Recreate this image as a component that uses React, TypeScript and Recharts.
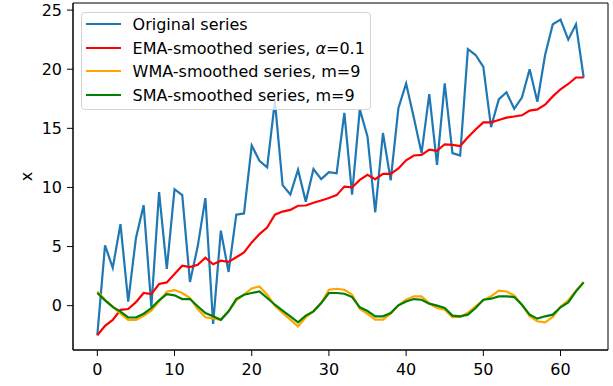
import React from 'react';
import { LineChart, Line, XAxis, YAxis, Legend, ReferenceArea } from 'recharts';

const original = [-2.5, 5.1, 3.2, 6.9, 0.35, 5.7, 8.5, -0.1, 9.6, 3.1,
  9.85, 9.35, 2.0, 5.0, 9.1, -1.55, 6.35, 2.85, 7.7, 7.8,
  13.55, 12.25, 11.7, 17.3, 10.2, 9.4, 11.5, 8.8, 11.55, 10.7,
  11.3, 11.2, 16.3, 9.4, 16.6, 14.3, 7.9, 14.6, 10.6, 16.7,
  18.8, 15.9, 12.9, 17.9, 11.9, 18.8, 12.9, 12.7, 21.7, 21.2,
  20.2, 15.1, 17.45, 18.05, 16.65, 17.6, 20.0, 17.25, 21.2, 23.8,
  24.2, 22.5, 23.8, 19.3];

const ema = [-2.5, -1.7, -1.2, -0.35, -0.28, 0.3, 1.07, 0.98, 1.83, 1.97,
  2.68, 3.38, 3.27, 3.46, 4.05, 3.5, 3.8, 3.7, 4.1, 4.5,
  5.35, 6.05, 6.6, 7.69, 7.96, 8.1, 8.45, 8.47, 8.7, 8.9,
  9.1, 9.35, 10.07, 10.0, 10.64, 11.06, 10.7, 11.15, 11.15, 11.6,
  12.3, 12.7, 12.75, 13.2, 13.1, 13.65, 13.6, 13.5, 14.25, 14.9,
  15.5, 15.5, 15.7, 15.9, 16.0, 16.1, 16.5, 16.6, 17.0, 17.7,
  18.3, 18.75, 19.3, 19.3];

const wma = [1.2, 0.5, -0.1, -0.67, -1.2, -1.2, -0.85, -0.42, 0.36, 1.18,
  1.32, 1.07, 0.65, -0.28, -0.98, -1.07, -1.2, -0.5, 0.45, 0.93,
  1.46, 1.63, 0.93, 0.0, -0.62, -1.18, -1.75, -0.98, -0.48, 0.22,
  1.35, 1.43, 1.35, 0.93, -0.25, -0.7, -1.18, -1.18, -0.67, 0.03,
  0.5, 0.79, 0.79, 0.2, -0.2, -0.34, -0.98, -0.95, -0.6, -0.05,
  0.45, 0.79, 1.27, 1.2, 0.86, 0.08, -0.9, -1.32, -1.41, -0.95,
  -0.1, 0.45, 1.27, 2.0];

const sma = [1.07, 0.45, -0.1, -0.5, -1.0, -1.0, -0.68, -0.2, 0.45, 0.98,
  0.87, 0.56, 0.56, -0.05, -0.62, -0.9, -1.2, -0.48, 0.56, 0.93,
  1.07, 1.21, 0.65, 0.08, -0.42, -0.9, -1.41, -0.84, -0.48, 0.22,
  1.07, 1.07, 1.01, 0.73, -0.14, -0.45, -0.9, -0.9, -0.62, 0.03,
  0.36, 0.56, 0.5, 0.17, 0.0, -0.2, -0.84, -0.9, -0.76, -0.2,
  0.5, 0.59, 0.79, 0.79, 0.73, 0.08, -0.76, -1.1, -0.9, -0.76,
  -0.14, 0.28, 1.21, 1.97];

const xTicks = [0, 10, 20, 30, 40, 50, 60];
const yTicks = [0, 5, 10, 15, 20, 25];

const data = original.map((v, i) => ({ t: i, orig: v, ema: ema[i], wma: wma[i], sma: sma[i] }));

const FONT = 'DejaVu Sans, sans-serif';
const FS = 16;
const X_DOMAIN: [number, number] = [-3.15, 66.15];
const Y_DOMAIN: [number, number] = [-3.75, 25.6];

const legendItems = [
  { color: '#1f77b4', label: <span>Original series</span> },
  { color: '#ff0000', label: <span>EMA-smoothed series, <i>α</i>=0.1</span> },
  { color: '#ffa500', label: <span>WMA-smoothed series, m=9</span> },
  { color: '#008000', label: <span>SMA-smoothed series, m=9</span> },
];
const rowCenters = [11, 35, 58, 82];

const renderLegend = () => (
  <div style={{
    position: 'relative', width: 290, height: 98, boxSizing: 'border-box',
    border: '1px solid #d4d4d4', borderRadius: 4, background: 'rgba(255,255,255,0.8)',
    fontFamily: FONT, fontSize: FS, color: '#000',
  }}>
    {legendItems.map((it, k) => (
      <div key={k} style={{
        position: 'absolute', left: 0, top: rowCenters[k] - 12, height: 24,
        display: 'flex', alignItems: 'center', whiteSpace: 'nowrap',
      }}>
        <div style={{ marginLeft: 4, width: 35, height: 2, background: it.color }} />
        <div style={{ marginLeft: 11.6 }}>{it.label}</div>
      </div>
    ))}
  </div>
);

const YLabel = (props: any) => {
  const vb = props.viewBox || { x: 0, y: 0, width: 0, height: 0 };
  const cx = 31.7;
  const cy = vb.y + vb.height / 2;
  return (
    <text x={cx} y={cy} transform={`rotate(-90, ${cx}, ${cy})`} textAnchor="middle"
      fontFamily={FONT} fontSize={FS} fill="#000">x</text>
  );
};

export default function App() {
  return (
    <div style={{ position: 'absolute', left: 0, top: 0, width: 613, height: 386, background: '#fff' }}>
      <LineChart width={613} height={386} data={data}
        margin={{ top: 3, right: 5, bottom: 0, left: 0 }}>
        <XAxis dataKey="t" type="number" domain={X_DOMAIN} ticks={xTicks} allowDataOverflow
          height={36} tickSize={6} tickMargin={7.5}
          axisLine={{ stroke: '#000', strokeWidth: 1 }} tickLine={{ stroke: '#000' }}
          tick={{ fill: '#000', fontSize: FS, fontFamily: FONT }} />
        <YAxis type="number" domain={Y_DOMAIN} ticks={yTicks} allowDataOverflow
          width={73} tickSize={6} tickMargin={5}
          axisLine={{ stroke: '#000', strokeWidth: 1 }} tickLine={{ stroke: '#000' }}
          tick={{ fill: '#000', fontSize: FS, fontFamily: FONT }}
          label={<YLabel />} />
        <ReferenceArea x1={X_DOMAIN[0]} x2={X_DOMAIN[1]} y1={Y_DOMAIN[0]} y2={Y_DOMAIN[1]}
          fill="none" stroke="#000" strokeWidth={1} fillOpacity={0} ifOverflow="visible" />
        <Line dataKey="orig" stroke="#1f77b4" strokeWidth={2.2} dot={false} isAnimationActive={false} type="linear" />
        <Line dataKey="ema" stroke="#ff0000" strokeWidth={2.2} dot={false} isAnimationActive={false} type="linear" />
        <Line dataKey="wma" stroke="#ffa500" strokeWidth={2.2} dot={false} isAnimationActive={false} type="linear" />
        <Line dataKey="sma" stroke="#008000" strokeWidth={2.2} dot={false} isAnimationActive={false} type="linear" />
        <Legend layout="vertical" align="center" verticalAlign="middle" content={renderLegend}
          wrapperStyle={{ left: 81, top: 12, width: 290, height: 98 }} />
      </LineChart>
    </div>
  );
}
